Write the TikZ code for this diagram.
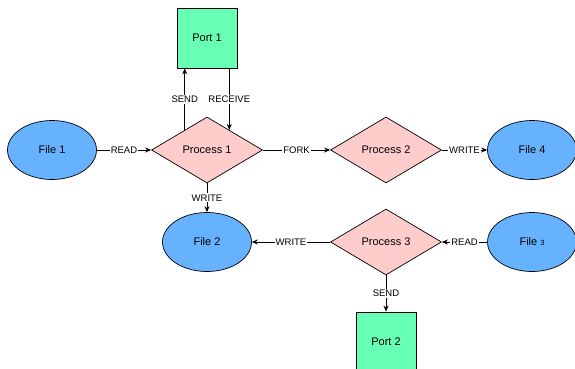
\documentclass[tikz,border=0pt]{standalone}
\usepackage{fontspec}
\setmainfont{Liberation Sans}
\usetikzlibrary{shapes.geometric,arrows.meta}
\definecolor{filefill}{HTML}{66B2FF}
\definecolor{procfill}{HTML}{FFCCCC}
\definecolor{portfill}{HTML}{66FFB3}

\begin{document}
\begin{tikzpicture}[%
  x=1pt,y=-1pt,line width=0.7pt,
  file/.style={ellipse,draw,fill=filefill,minimum width=89pt,minimum height=59pt,
    font=\fontsize{11}{13}\selectfont},
  proc/.style={diamond,draw,fill=procfill,minimum width=111pt,minimum height=66pt,
    inner sep=0pt,font=\fontsize{11}{13}\selectfont},
  port/.style={draw,fill=portfill,minimum size=60pt,inner sep=0pt,
    font=\fontsize{11}{13}\selectfont},
  lbl/.style={fill=white,inner sep=1pt,font=\fontsize{9.5}{11}\selectfont},
  >={Stealth[length=6pt,width=5pt]}]
  \useasboundingbox (0,0) rectangle (575,369);
  \node[port] (port1) at (207,38) {Port 1};
  \node[proc] (proc1) at (207,150) {Process 1};
  \node[proc] (proc2) at (386,150) {Process 2};
  \node[proc] (proc3) at (386,242) {Process 3};
  \node[file] (file1) at (52,150) {File 1};
  \node[file] (file4) at (532,150) {File 4};
  \node[file] (file2) at (207,242) {File 2};
  \node[file] (file3) at (532,242) {File {\fontsize{7.5}{8}\selectfont 3}};
  \node[port] (port2) at (386,342) {Port 2};
  \draw[->] (file1) -- node[lbl] {READ} (proc1);
  \draw[->] (proc1.138) -- node[lbl] {SEND} (proc1.138 |- port1.south);
  \draw[->] (port1.south -| proc1.42) -- node[lbl] {RECEIVE} (proc1.42);
  \draw[->] (proc1) -- node[lbl] {FORK} (proc2);
  \draw[->] (proc2) -- node[lbl] {WRITE} (file4);
  \draw[->] (proc1) -- node[lbl] {WRITE} (file2);
  \draw[->] (proc3) -- node[lbl] {WRITE} (file2);
  \draw[->] (file3) -- node[lbl] {READ} (proc3);
  \draw[->] (proc3) -- node[lbl] {SEND} (port2);
\end{tikzpicture}
\end{document}
